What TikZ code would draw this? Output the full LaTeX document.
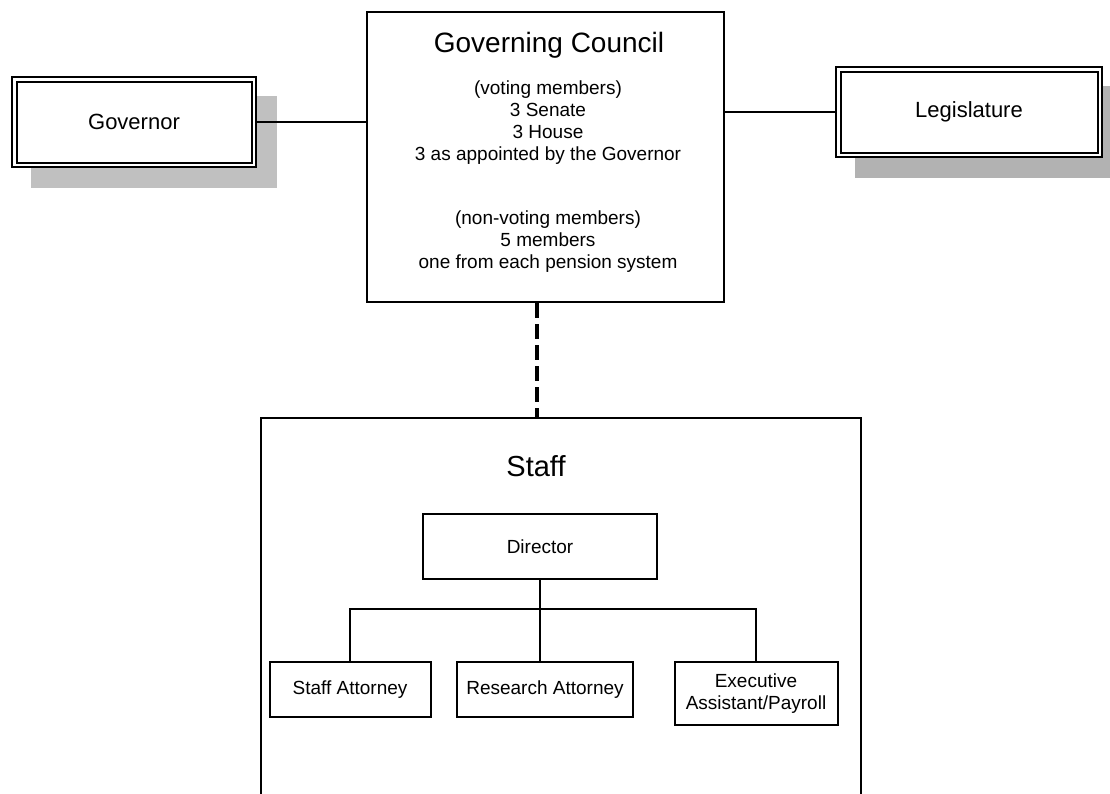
\documentclass[tikz,border=0pt]{standalone}
\usepackage{fontspec}
\setmainfont{Liberation Sans}
\definecolor{shadowA}{RGB}{192,192,192}
\definecolor{shadowB}{RGB}{178,178,178}
\begin{document}
\begin{tikzpicture}[x=1pt,y=-1pt,
  box/.style={draw=black, line width=2pt, fill=white, inner sep=0pt, align=center,
              font=\fontsize{19}{22}\selectfont},
  dbox/.style={draw=black, line width=2pt, double=white, double distance=2.5pt, fill=white,
               inner sep=0pt, outer sep=3.25pt, align=center, font=\fontsize{22}{26}\selectfont},
  link/.style={draw=black, line width=2pt},
  dashlink/.style={draw=black, line width=4pt, dash pattern=on 15pt off 6pt},
  small/.style={font=\fontsize{19}{22}\selectfont, align=center, inner sep=0pt},
  big/.style={font=\fontsize{28}{32}\selectfont, inner sep=0pt},
  biggest/.style={font=\fontsize{29}{33}\selectfont, inner sep=0pt}
]
\useasboundingbox (0,0) rectangle (1110,793);
\fill[white] (0,0) rectangle (1110,793);
\clip (0,0) rectangle (1110,793);

% shadows
\fill[shadowA] (31,96) rectangle (277,188);
\fill[shadowB] (855,86) rectangle (1110,178);

% top row
\node[dbox, minimum width=239.5, minimum height=85.5] (gov) at (134,122) {Governor};
\node[dbox, minimum width=261.5, minimum height=85.5] (leg) at (969,112) {Legislature};
\node[box, minimum width=357, minimum height=290] (council) at (545,157) {};

\node[big] (ctitle) at (549,45) {Governing Council};
\node[small] (cvote) at (548,123) {(voting members)\\3 Senate\\3 House\\3 as appointed by the Governor};
\node[small] (cnonvote) at (548,242) {(non-voting members)\\5 members\\one from each pension system};

\draw[link] (gov.east) -- (gov.east -| council.west);
\draw[link] (leg.west) -- (leg.west -| council.east);

% staff frame
\node[box, fill=none, minimum width=600, minimum height=420, anchor=north] (staff) at (561,417) {};
\node[biggest] (stafflbl) at (536,466) {Staff};

\coordinate (dx) at (537,0);
\draw[dashlink] (council.south -| dx) -- (staff.north -| dx);

% staff boxes
\node[box, minimum width=234, minimum height=65] (dir) at (540,546.5) {Director};
\node[box, minimum width=161, minimum height=55] (sa) at (350,689.5) {Staff Attorney};
\node[box, minimum width=176, minimum height=55] (ra) at (545,689.5) {Research Attorney};
\node[box, minimum width=163, minimum height=63] (ea) at (756,693.5) {Executive\\Assistant/Payroll};

\coordinate (br) at (540,609);
\draw[link] (dir.south) -- (dir.south |- ra.north);
\draw[link] (sa.north) -- (sa.north |- br) -- (ea.north |- br) -- (ea.north);
\end{tikzpicture}
\end{document}
